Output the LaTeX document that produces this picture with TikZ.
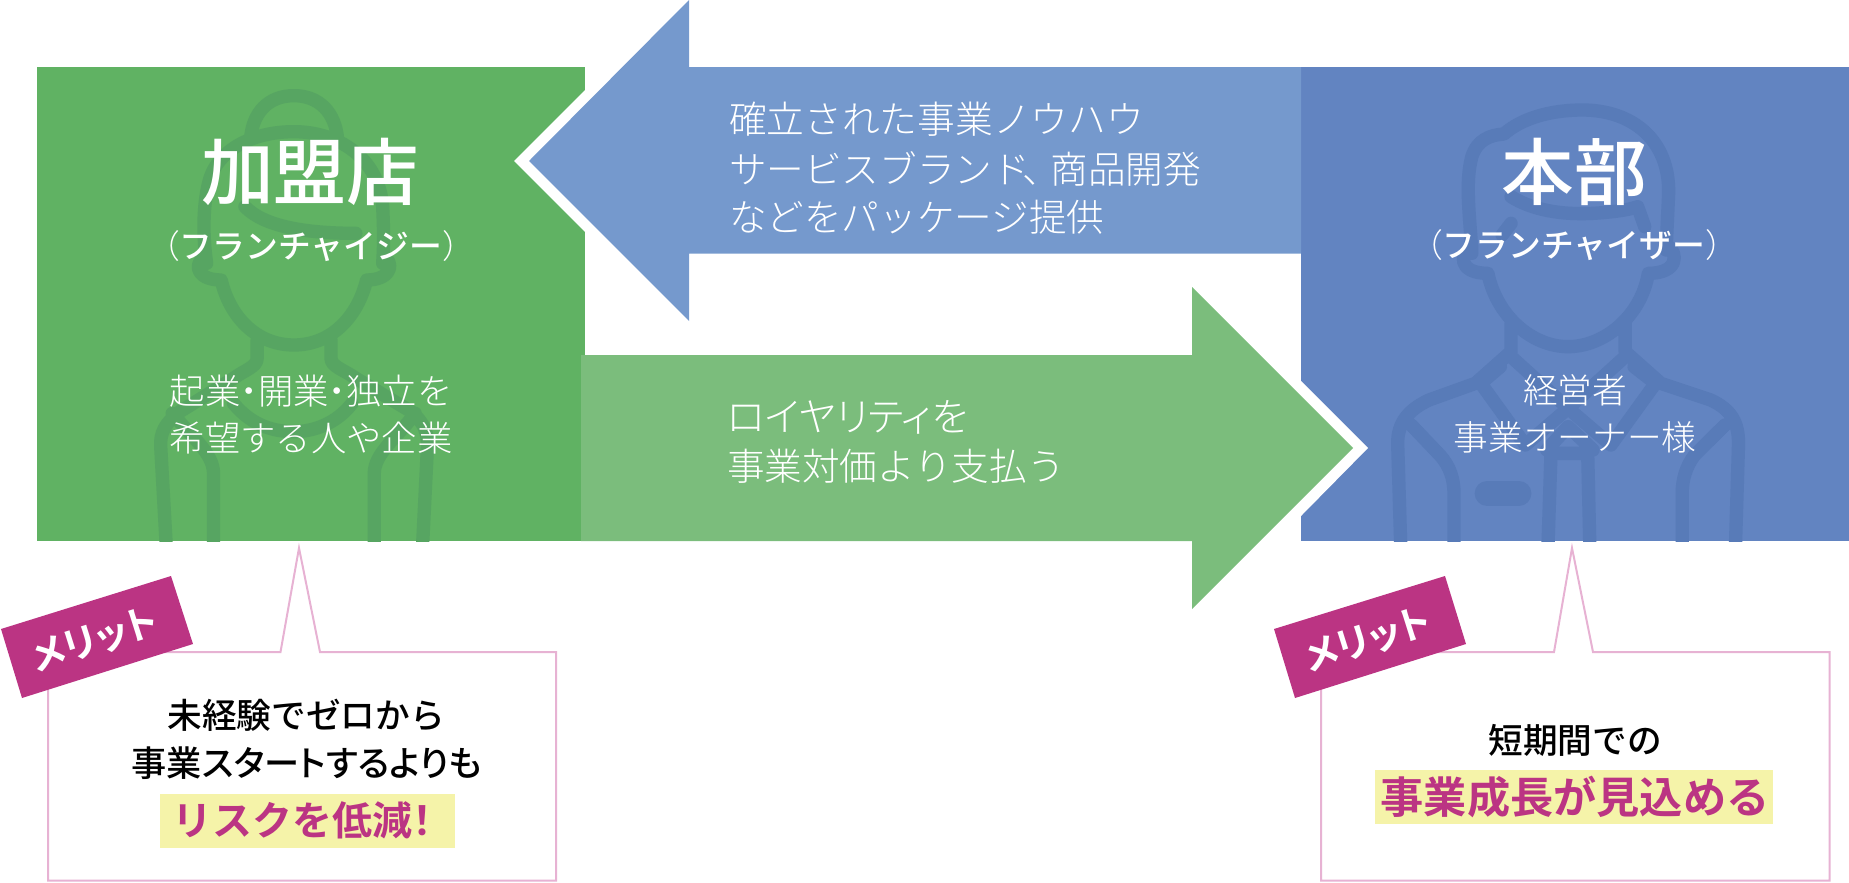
\documentclass[tikz,border=0pt]{standalone}
\usepackage{fontspec}
\setmainfont{Noto Sans CJK JP}
\newfontfamily\jl{Noto Sans CJK JP Light}
\newfontfamily\jlp[RawFeature=+palt]{Noto Sans CJK JP Light}
\newfontfamily\jm{Noto Sans CJK JP Medium}
\newfontfamily\jmp[RawFeature=+palt]{Noto Sans CJK JP Medium}
\newfontfamily\jb{Noto Sans CJK JP Bold}
\newfontfamily\jbp[RawFeature=+palt]{Noto Sans CJK JP Bold}
\newcommand\fz[1]{\fontsize{#1pt}{#1pt}\selectfont}
\definecolor{gbox}{HTML}{60B263}
\definecolor{garrow}{HTML}{7BBD7C}
\definecolor{bbox}{HTML}{6284C1}
\definecolor{barrow}{HTML}{7599CD}
\definecolor{gman}{HTML}{57A562}
\definecolor{bman}{HTML}{587BB8}
\definecolor{mag}{HTML}{BB3483}
\definecolor{pinkl}{HTML}{E7B2D3}
\definecolor{yel}{HTML}{F5F3A9}
\tikzset{
  txt/.style={inner sep=0pt,outer sep=0pt,anchor=center,text=white},
  ltxt/.style={txt,anchor=west},
  callout/.style={draw=pinkl,line width=1.5pt,fill=white,line join=miter},
  badge/.style={fill=mag},
  manline/.style={line width=10pt,line cap=round,line join=round},
}
\begin{document}
\begin{tikzpicture}[x=0.75pt,y=-0.75pt]
\useasboundingbox (0,0) rectangle (1849,882);
% boxes
\fill[gbox] (37,67) rectangle (585,541);
\fill[bbox] (1301,67) rectangle (1849,541);
% franchisee figure
\begin{scope}
\clip (37,67) rectangle (585,541);
\begin{scope}[shift={(0,50)},x=0.287pt,y=-0.25pt]
\draw[gman,manline]
  (655,265) .. controls (660,190) and (700,137) .. (768,137) .. controls (836,137) and (876,190) .. (882,265)
  (540,640) .. controls (530,560) and (530,470) .. (545,400) .. controls (565,300) and (660,245) .. (768,245) .. controls (880,245) and (990,320) .. (1000,470) .. controls (1003,540) and (1003,590) .. (1000,640)
  (640,470) .. controls (690,530) and (800,550) .. (930,550)
  (530,625) .. controls (505,650) and (520,690) .. (578,690) .. controls (600,800) and (670,885) .. (768,885) .. controls (866,885) and (935,800) .. (958,690) .. controls (1015,690) and (1030,650) .. (1010,625)
  (672,870) -- (672,925) .. controls (672,950) and (640,960) .. (610,985) -- (470,1085) .. controls (430,1120) and (418,1150) .. (420,1190) -- (437,1540)
  (865,870) -- (865,925) .. controls (865,950) and (900,960) .. (930,985) -- (1075,1085) .. controls (1110,1120) and (1118,1150) .. (1117,1190) -- (1102,1540)
  (558,1540) -- (558,1270) .. controls (558,1210) and (500,1160) .. (450,1090)
  (978,1540) -- (978,1270) .. controls (978,1210) and (1040,1160) .. (1085,1090)
  (610,1060) .. controls (660,1130) and (720,1145) .. (768,1145) .. controls (820,1145) and (880,1120) .. (920,1060);
\end{scope}
\end{scope}
% franchisor figure
\begin{scope}
\clip (1301,67) rectangle (1849,541);
\begin{scope}[shift={(1290,50)},x=0.2674pt,y=-0.25pt]
\draw[bman,manline]
  (510,610) .. controls (505,500) and (490,400) .. (510,320) .. controls (525,270) and (560,255) .. (600,252) .. controls (650,205) and (730,180) .. (820,180) .. controls (960,180) and (1065,270) .. (1062,430) .. controls (1060,480) and (1058,520) .. (1055,600)
  (620,440) .. controls (680,480) and (760,495) .. (850,490) .. controls (900,487) and (950,480) .. (975,470) -- (995,530)
  (620,520) -- (595,555)
  (510,590) .. controls (475,610) and (470,670) .. (555,670) .. controls (580,800) and (680,890) .. (780,890) .. controls (880,890) and (985,800) .. (1005,670) .. controls (1090,670) and (1090,610) .. (1058,585)
  (620,820) -- (620,905) -- (520,1000) -- (390,1050) .. controls (330,1080) and (302,1120) .. (302,1180) -- (312,1540)
  (940,820) -- (940,905) -- (1040,1000) -- (1180,1050) .. controls (1240,1080) and (1258,1120) .. (1258,1180) -- (1248,1540)
  (620,920) -- (780,1075) -- (940,920)
  (590,950) -- (535,1000) -- (660,1185) -- (780,1075) -- (900,1185) -- (1025,1000) -- (965,950)
  (722,1540) -- (732,1210) -- (835,1210) -- (842,1540)
  (720,1200) -- (780,1130) -- (850,1200)
  (340,1125) -- (420,1215) .. controls (450,1250) and (460,1290) .. (460,1330) -- (460,1540)
  (1220,1125) -- (1135,1215) .. controls (1110,1250) and (1100,1290) .. (1100,1330) -- (1100,1540);
\draw[bman,line width=18.75pt,line cap=round] (553,1330) -- (642,1330);
\end{scope}
\end{scope}
% arrows
\fill[white] (514,161) -- (600,75) -- (600,247) -- cycle;
\fill[barrow] (529,161) -- (689,0) -- (689,67) -- (1301,67) -- (1301,253.5) -- (689,253.5) -- (689,321) -- cycle;
\fill[white] (1368,448) -- (1301,381) -- (1290,381) -- (1290,516) -- (1301,516) -- cycle;
\fill[garrow] (1353,448) -- (1192,287) -- (1192,355) -- (581,355) -- (581,541) -- (1192,541) -- (1192,609) -- cycle;
% box texts
\node[txt,font=\jm\fz{54.5}] (kamei) at (310,172) {加盟店};
\node[txt,font=\jm\fz{24.6}] (fee) at (311,246) {{\jl（}フランチャイジー{\jl）}};
\node[txt,font=\jl\fz{26.5}] (kibo1) at (311,391) {起業\kern-.25em・\kern-.25em 開業\kern-.25em・\kern-.25em 独立を};
\node[txt,font=\jl\fz{26.5}] (kibo2) at (311,438) {希望する人や企業};
\node[txt,font=\jm\fz{54.5}] (honbu) at (1574,172) {本部};
\node[txt,font=\jm\fz{24.6}] (sor) at (1574,245) {{\jl（}フランチャイザー{\jl）}};
\node[txt,font=\jl\fz{26}] (owner1) at (1575,390) {経営者};
\node[txt,font=\jl\fz{26}] (owner2) at (1575,437) {事業オーナー様};
% arrow texts
\node[ltxt,font=\jl\fz{28.3}] (b1) at (729,119) {確立された事業ノウハウ};
\node[ltxt,font=\jl\fz{28.2}] (b2) at (729,169) {サービスブランド\kern-.2em、\kern-.25em 商品開発};
\node[ltxt,font=\jl\fz{28.2}] (b3) at (729,217) {などをパッケージ提供};
\node[ltxt,font=\jlp\fz{29.5}] (g1) at (727,417) {ロイヤリティを};
\node[ltxt,font=\jl\fz{28.2}] (g2) at (727,466) {事業対価より支払う};
% callouts
\draw[callout] (48,652) -- (280.5,652) -- (299,548) -- (320,652) -- (556,652) -- (556,880.5) -- (48,880.5) -- cycle;
\draw[callout] (1321,652) -- (1554,652) -- (1572,548) -- (1593,652) -- (1829.5,652) -- (1829.5,880.5) -- (1321,880.5) -- cycle;
\fill[badge] (1,629) -- (171,576) -- (193,644) -- (22,698) -- cycle;
\fill[badge] (1274,629) -- (1445,576) -- (1466,644) -- (1295,698) -- cycle;
\node[txt,rotate=17.5,font=\jbp\fz{28.5}] (m1) at (95,640) {メリット};
\node[txt,rotate=17.5,font=\jbp\fz{28.5}] (m2) at (1368,640) {メリット};
% callout texts
\node[txt,text=black,font=\jm\fz{26}] (c1) at (306,715) {未経験でゼロから};
\node[txt,text=black,font=\jmp\fz{26.4}] (c2) at (307,763) {事業スタートするよりも};
\fill[yel] (160,794) rectangle (455,848);
\node[txt,text=mag,font=\jb\fz{30}] (c3) at (307,820) {リスクを低減\kern-.25em ！};
\node[txt,text=black,font=\jm\fz{26}] (d1) at (1575,740) {短期間での};
\fill[yel] (1375,770) rectangle (1772.5,824);
\node[txt,text=mag,font=\jb\fz{32.4}] (d2) at (1575,797) {事業成長が見込める};
\end{tikzpicture}
\end{document}
